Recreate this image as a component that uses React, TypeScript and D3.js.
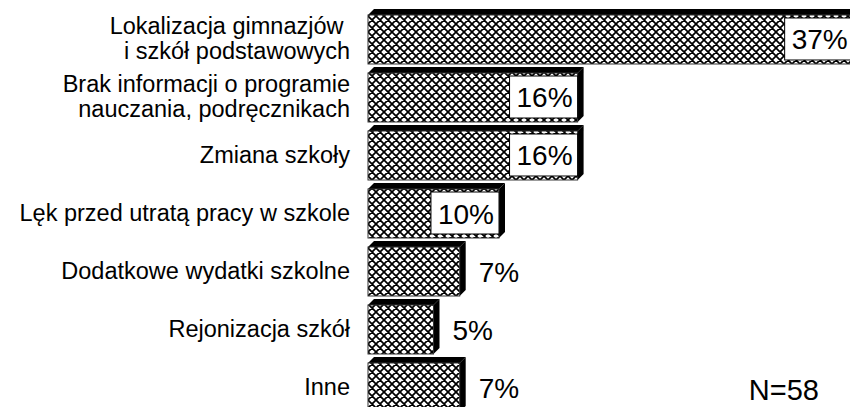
import { useRef, useEffect } from "react";
import { select, scaleBand, scaleLinear } from "d3";

const categories = [
  ["Lokalizacja gimnazjów ", "i szkół podstawowych"],
  ["Brak informacji o programie", "nauczania, podręcznikach"],
  ["Zmiana szkoły"],
  ["Lęk przed utratą pracy w szkole"],
  ["Dodatkowe wydatki szkolne"],
  ["Rejonizacja szkół"],
  ["Inne"],
];
const values = [37, 16, 16, 10, 7, 5, 7];
const labels = ["37%", "16%", "16%", "10%", "7%", "5%", "7%"];
const note = "N=58";

const W = 850;
const H = 407;
const depth = 6;
const font = "'Liberation Sans', Arial, sans-serif";

export default function App() {
  const ref = useRef<SVGSVGElement | null>(null);

  useEffect(() => {
    const svg = select(ref.current!);
    svg.selectAll("*").remove();

    // crosshatch fill
    const P = 8;
    const defs = svg.append("defs");
    const pat = defs
      .append("pattern")
      .attr("id", "hatch")
      .attr("patternUnits", "userSpaceOnUse")
      .attr("width", P)
      .attr("height", P);
    pat.append("rect").attr("width", P).attr("height", P).attr("fill", "#fff");
    pat
      .append("path")
      .attr(
        "d",
        `M0,0L${P},${P}M${P},0L0,${P}M-1,${P - 1}L1,${P + 1}M${P - 1},-1L${P + 1},1M-1,1L1,-1M${P - 1},${P + 1}L${P + 1},${P - 1}`
      )
      .attr("stroke", "#000")
      .attr("stroke-width", 1.7);

    const idx = values.map((_, i) => String(i));
    const y = scaleBand<string>().domain(idx).range([9, 412]).paddingInner(0.052);
    const x = scaleLinear().domain([0, 40]).range([368, 368 + 524]);

    const rows = svg
      .selectAll(".row")
      .data(values)
      .join("g")
      .attr("class", "row");

    rows.each(function (v, i) {
      const g = select(this);
      const x0 = x(0);
      const x1 = x(v);
      const top = y(String(i))!;
      const y0 = top + depth;
      const y1 = top + y.bandwidth();
      const cy = (y0 + y1) / 2;

      // top side
      g.append("path")
        .attr("d", `M${x0},${y0}L${x0 + depth},${y0 - depth}L${x1 + depth},${y0 - depth}L${x1},${y0}Z`)
        .attr("fill", "#000");
      // right side
      g.append("path")
        .attr("d", `M${x1},${y0}L${x1 + depth},${y0 - depth}L${x1 + depth},${y1 - depth}L${x1},${y1}Z`)
        .attr("fill", "#000");
      // face
      g.append("rect")
        .attr("x", x0)
        .attr("y", y0)
        .attr("width", x1 - x0)
        .attr("height", y1 - y0)
        .attr("fill", "url(#hatch)")
        .attr("stroke", "#333")
        .attr("stroke-width", 1);

      // category label
      const lines = categories[i];
      const lh = 25;
      const t = g
        .append("text")
        .attr("text-anchor", "end")
        .attr("font-family", font)
        .attr("font-size", 23.5)
        .attr("fill", "#000");
      lines.forEach((ln, k) => {
        t.append("tspan")
          .attr("x", 350)
          .attr("y", cy + (k - (lines.length - 1) / 2) * lh + 7.5)
          .style("white-space", "pre")
          .text(ln);
      });

      // value label
      const inside = v >= 10;
      const vt = g
        .append("text")
        .attr("font-family", font)
        .attr("font-size", 28)
        .attr("fill", "#000")
        .attr("y", cy + 10)
        .text(labels[i]);
      if (inside) {
        const tw = (vt.node() as SVGTextElement).getComputedTextLength();
        const bx = x1 - tw - 12;
        g.insert("rect", "text:last-of-type")
          .attr("x", bx)
          .attr("y", y0 + 3)
          .attr("width", x1 - bx)
          .attr("height", y1 - y0 - 7)
          .attr("fill", "#fff")
          .attr("stroke", "#000")
          .attr("stroke-width", 1);
        vt.attr("x", bx + 7);
        vt.raise();
      } else {
        vt.attr("x", x1 + depth + 13);
      }
    });

    svg
      .append("text")
      .attr("x", 819)
      .attr("y", 400)
      .attr("text-anchor", "end")
      .attr("font-family", font)
      .attr("font-size", 29)
      .text(note);
  }, []);

  return (
    <svg
      ref={ref}
      width={W}
      height={H}
      style={{ position: "absolute", left: 0, top: 0, background: "#fff" }}
    ></svg>
  );
}
